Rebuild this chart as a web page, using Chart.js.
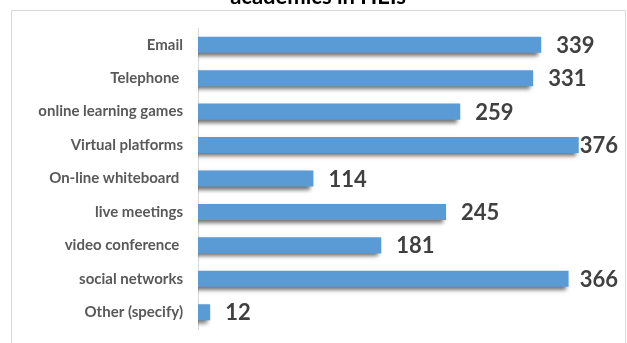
<!DOCTYPE html>
<html>
<head>
<meta charset="utf-8">
<script src="https://cdn.jsdelivr.net/npm/chart.js@4"></script>
<style>
  html, body { margin: 0; padding: 0; background: #fff; }
  #wrap { position: relative; width: 627px; height: 343px; }
</style>
</head>
<body>
<div id="wrap"><canvas id="toolsChart" width="627" height="343"></canvas></div>
<script>
// data
const tools = ['Email', 'Telephone ', 'online learning games', 'Virtual platforms',
  'On-line whiteboard ', 'live meetings', 'video conference ', 'social networks', 'Other (specify)'];
const counts = [339, 331, 259, 376, 114, 245, 181, 366, 12];
const chartTitle = 'academics in HEIs';

// frame + title cut at the top edge
const framePlugin = {
  id: 'frame',
  beforeDraw(chart) {
    const c = chart.ctx;
    c.save();
    c.strokeStyle = '#d9d9d9';
    c.lineWidth = 1;
    c.beginPath();
    c.moveTo(11.5, 400);
    c.lineTo(11.5, 10.5);
    c.lineTo(625.5, 10.5);
    c.lineTo(625.5, 400);
    c.stroke();
    c.fillStyle = '#000';
    c.font = 'bold 22px Lato';
    c.textAlign = 'center';
    c.textBaseline = 'alphabetic';
    c.fillText(chartTitle, 318, 4);
    c.restore();
  }
};

// soft shadow under the bars
const shadowPlugin = {
  id: 'barShadow',
  beforeDatasetDraw(chart) {
    const c = chart.ctx;
    c.save();
    c.shadowColor = 'rgba(0,0,0,0.55)';
    c.shadowOffsetX = -3;
    c.shadowOffsetY = 3;
    c.shadowBlur = 4;
  },
  afterDatasetDraw(chart) {
    chart.ctx.restore();
  }
};

// value labels at the bar ends
const valuePlugin = {
  id: 'values',
  afterDatasetsDraw(chart) {
    const c = chart.ctx;
    const meta = chart.getDatasetMeta(0);
    c.save();
    c.font = 'bold 22px Lato';
    c.fillStyle = '#404040';
    c.textBaseline = 'middle';
    meta.data.forEach((bar, i) => {
      const txt = String(counts[i]);
      const w = c.measureText(txt).width;
      const x = Math.min(bar.x + 15, 618 - w);
      c.fillText(txt, x, bar.y + 1);
    });
    c.restore();
  }
};

const ctx = document.getElementById('toolsChart');

new Chart(ctx, {
  type: 'bar',
  data: {
    labels: tools,
    datasets: [{
      data: counts,
      backgroundColor: '#5b9bd5',
      borderWidth: 0,
      barPercentage: 0.48,
      categoryPercentage: 1
    }]
  },
  options: {
    responsive: false,
    animation: false,
    indexAxis: 'y',
    layout: {
      padding: { left: 0, right: 24, top: 28, bottom: 14 }
    },
    plugins: {
      legend: { display: false },
      tooltip: { enabled: false }
    },
    scales: {
      x: {
        display: false,
        min: 0,
        max: 400
      },
      y: {
        afterFit(scale) {
          scale.width = 198;
          // don't let the label overhang eat the plot height
          scale.paddingTop = 0;
          scale.paddingBottom = 0;
        },
        border: { color: '#d9d9d9' },
        grid: { display: false, drawTicks: false },
        ticks: {
          padding: 15,
          color: '#595959',
          font: { family: 'Lato', size: 15, weight: 'bold' }
        }
      }
    }
  },
  plugins: [framePlugin, shadowPlugin, valuePlugin]
});
</script>
</body>
</html>
